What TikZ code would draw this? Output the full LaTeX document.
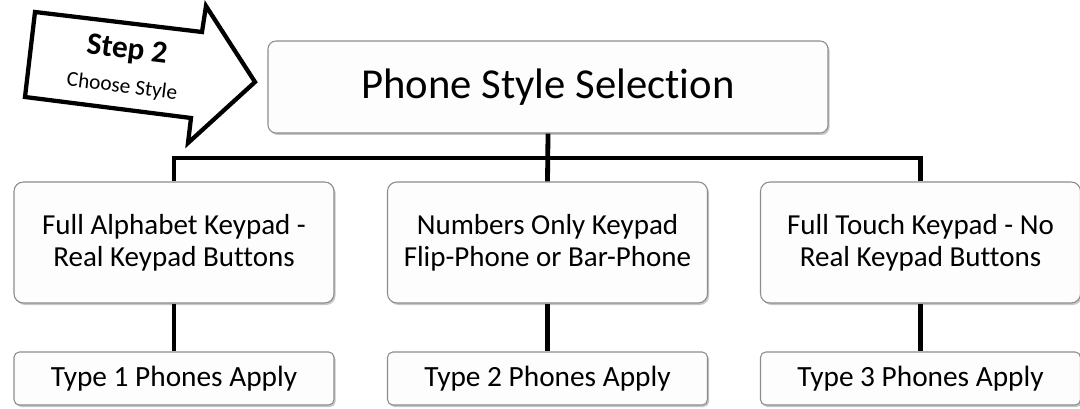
\documentclass[tikz,border=0pt]{standalone}
\usepackage{fontspec}
\setmainfont[Ligatures=NoCommon]{Carlito}
\usetikzlibrary{shadows}
\definecolor{boxgray}{HTML}{8C8C8C}
\definecolor{boxfill}{HTML}{FDFDFD}
\begin{document}
\begin{tikzpicture}[x=0.75pt,y=-0.75pt,
  box/.style={draw=boxgray, line width=0.8pt, fill=boxfill, align=center, inner sep=0pt,
    drop shadow={shadow xshift=1.2pt, shadow yshift=-1.5pt, fill=black, opacity=0.22}},
  topbox/.style={box, rounded corners=6pt, minimum width=420pt, minimum height=69pt,
    font=\fontsize{32}{36}\selectfont},
  midbox/.style={box, rounded corners=7pt, minimum width=240pt, minimum height=90.75pt,
    font=\fontsize{21.75}{24}\selectfont},
  botbox/.style={box, rounded corners=4pt, minimum width=240pt, minimum height=39.75pt,
    font=\fontsize{22}{24}\selectfont},
  conn/.style={draw=black, line width=3.6pt},
  arrowshape/.style={draw=black, fill=white, line width=3.2pt, line join=miter},
  arrowtext/.style={rotate=-7, inner sep=0.5pt},
  ]
\useasboundingbox (0,0) rectangle (1080,409);

% step arrow
\draw[arrowshape] (35,12) -- (202,32) -- (206,6) -- (255,82) -- (188,143) -- (191,118) -- (25,97) -- cycle;
\node[arrowtext, font=\bfseries\fontsize{23.5}{26}\selectfont] (step) at (127,51) {Step 2};
\node[arrowtext, font=\fontsize{16}{18}\selectfont] (choose) at (122,87) {Choose Style};

% boxes
\node[topbox] (top) at (548,87) {Phone Style Selection};
\node[midbox] (m1) at (174,242.5) {Full Alphabet Keypad -\\Real Keypad Buttons};
\node[midbox] (m2) at (547.5,242.5) {Numbers Only Keypad\\Flip-Phone or Bar-Phone};
\node[midbox] (m3) at (920.5,242.5) {Full Touch Keypad - No\\Real Keypad Buttons};
\node[botbox] (b1) at (174,378.5) {Type 1 Phones Apply};
\node[botbox] (b2) at (547.5,378.5) {Type 2 Phones Apply};
\node[botbox] (b3) at (920.5,378.5) {Type 3 Phones Apply};

% connectors
\coordinate (bar) at (548,158);
\draw[conn] (m1.north) |- (bar) -| (m3.north);
\draw[conn] (top.south) -- (m2.north);
\draw[conn] (m1.south) -- (b1.north);
\draw[conn] (m2.south) -- (b2.north);
\draw[conn] (m3.south) -- (b3.north);
\end{tikzpicture}
\end{document}
